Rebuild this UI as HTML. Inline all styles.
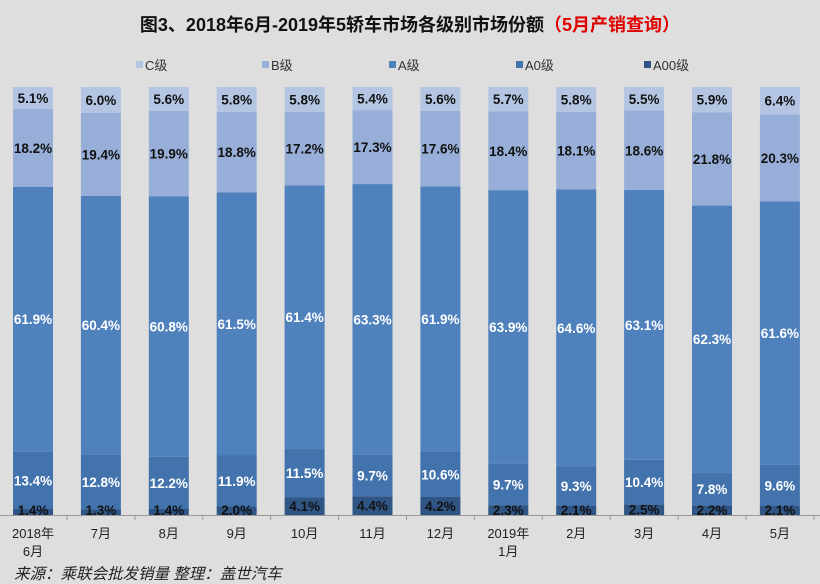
<!DOCTYPE html>
<html><head><meta charset="utf-8"><style>
body{margin:0;background:#dedede;}
svg{display:block;font-family:"Liberation Sans","Noto Sans CJK SC",sans-serif;}
</style></head><body>
<svg id="s" width="820" height="584" viewBox="0 0 820 584">
<rect width="820" height="584" fill="#dedede"/>
<text x="410" y="31" text-anchor="middle" font-size="18" font-weight="bold" fill="#111">图3、2018年6月-2019年5轿车市场各级别市场份额<tspan fill="#e00000">（5月产销查询）</tspan></text>
<g font-size="13" fill="#333">
<rect x="136" y="61" width="7" height="7" fill="#b4c5e4"/><text x="145" y="70">C级</text>
<rect x="262" y="61" width="7" height="7" fill="#97afd8"/><text x="271" y="70">B级</text>
<rect x="389" y="61" width="7" height="7" fill="#4f81bd"/><text x="398" y="70">A级</text>
<rect x="516" y="61" width="7" height="7" fill="#4373ac"/><text x="525" y="70">A0级</text>
<rect x="644" y="61" width="7" height="7" fill="#2f5585"/><text x="653" y="70">A00级</text>
</g>
<g id="bars"></g>
<line x1="0" y1="515.5" x2="820" y2="515.5" stroke="#999"/>
<g font-size="13" fill="#222" text-anchor="middle" id="xl"></g>
<text x="14" y="579" font-size="15.5" font-style="italic" fill="#222">来源：乘联会批发销量  整理：盖世汽车</text>
</svg>
<script>
var d=[[1.4,13.4,61.9,18.2,5.1],[1.3,12.8,60.4,19.4,6.0],[1.4,12.2,60.8,19.9,5.6],[2.0,11.9,61.5,18.8,5.8],[4.1,11.5,61.4,17.2,5.8],[4.4,9.7,63.3,17.3,5.4],[4.2,10.6,61.9,17.6,5.6],[2.3,9.7,63.9,18.4,5.7],[2.1,9.3,64.6,18.1,5.8],[2.5,10.4,63.1,18.6,5.5],[2.2,7.8,62.3,21.8,5.9],[2.1,9.6,61.6,20.3,6.4]];
var col=["#2f5585","#4373ac","#4f81bd","#97afd8","#b4c5e4"],tc=["#111","#fff","#fff","#111","#111"];
var lab=[["2018年","6月"],["7月"],["8月"],["9月"],["10月"],["11月"],["12月"],["2019年","1月"],["2月"],["3月"],["4月"],["5月"]];
var ns="http://www.w3.org/2000/svg",g=document.getElementById("bars"),xl=document.getElementById("xl");
function el(t,a,p,txt){var e=document.createElementNS(ns,t);for(var k in a)e.setAttribute(k,a[k]);if(txt)e.textContent=txt;p.appendChild(e);return e;}
for(var i=0;i<12;i++){var cx=33+67.9*i,x=cx-20,y=515,tot=d[i].reduce(function(a,b){return a+b},0);
for(var j=0;j<5;j++){var h=d[i][j]/tot*428;y-=h;el("rect",{x:x,y:y,width:40,height:h,fill:col[j]},g);}
y=515;for(j=0;j<5;j++){var h=d[i][j]/tot*428,c=y-h/2;y-=h;if(c>510)c=510;
el("text",{x:cx,y:c+5,"text-anchor":"middle","font-size":"13.5","font-weight":"bold",fill:tc[j]},g,d[i][j].toFixed(1)+"%");}
el("line",{x1:cx+34,y1:515,x2:cx+34,y2:520,stroke:"#999"},g);
el("text",{x:cx,y:538},xl,lab[i][0]);if(lab[i][1])el("text",{x:cx,y:556},xl,lab[i][1]);}
</script>
</body></html>
